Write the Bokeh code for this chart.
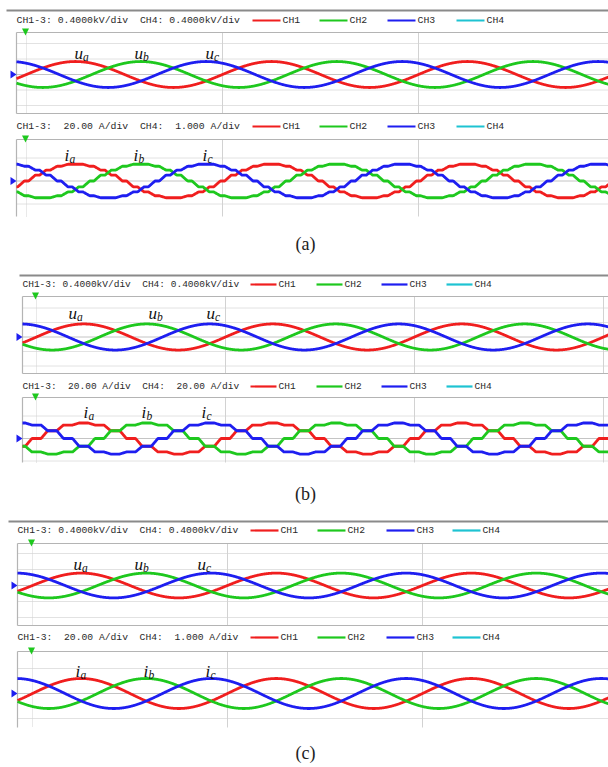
import numpy as np
from bokeh.plotting import figure
from bokeh.models import Range1d
from bokeh.core.properties import value
from bokeh.embed import file_html
from bokeh.resources import INLINE

# ---------------- data ----------------
cases = ["(a)", "(b)", "(c)"]
channels = ["CH1", "CH2", "CH3", "CH4"]
channel_colors = ["#f01e1e", "#1ec81e", "#1e1ef0", "#1ec3d2"]
phase_names = ["a", "b", "c"]
phase_shift_deg = [0, -120, 120]          # phase a, b, c
freq_hz = 50.0
kv_per_div = 0.4
a_per_div = 20.0
volt_hdr_ch13 = ["0.4000kV/div", "0.4000kV/div", "0.4000kV/div"]
volt_hdr_ch4 = ["0.4000kV/div", "0.4000kV/div", "0.4000kV/div"]
cur_hdr_ch13 = ["20.00 A/div", "20.00 A/div", "20.00 A/div"]
cur_hdr_ch4 = ["1.000 A/div", "20.00 A/div", "1.000 A/div"]
u_peak_kv = [0.335, 0.36, 0.31]           # phase voltage peak per case
i_peak_a = [14.8, 13.8, 12.0]             # phase current peak per case
i_steps_per_cycle = [18, 12, 0]           # staircase steps per cycle (0 = smooth)

# ---------------- layout (pixels) ----------------
W, H = 608, 767
blocks = [
    dict(x0=16, line_y=10, line_x0=6, hv=20, hi=126, fs="9.8px", leg=[252, 319, 387, 456], ll=28,
         trig=26, pxms=9.8, ramp=0.6,
         V=dict(top=32, bot=113, cy=74, div=15.5, nh=2, bb=True),
         I=dict(top=139, bot=216, cy=180.5, div=23, nh=1, bb=False),
         ux=[74, 134, 205], uy=53, ix=[64, 133, 202], iy=155, cap=243),
    dict(x0=22, line_y=275, line_x0=19, hv=284, hi=386, fs="9.5px", leg=[250, 316, 381, 446], ll=26,
         trig=36, pxms=9.45, ramp=0.42,
         V=dict(top=296, bot=373, cy=336.5, div=14.5, nh=2, bb=True),
         I=dict(top=397, bot=462, cy=438, div=22.5, nh=1, bb=False),
         ux=[68, 148, 206], uy=313, ix=[83, 141, 201], iy=412, cap=493),
    dict(x0=17, line_y=521, line_x0=8, hv=530, hi=637, fs="9.7px", leg=[250, 317, 386, 452], ll=28,
         trig=32, pxms=9.75, ramp=0.5,
         V=dict(top=543, bot=625, cy=585, div=16, nh=2, bb=True),
         I=dict(top=651, bot=727, cy=693, div=25, nh=1, bb=False),
         ux=[73, 134, 197], uy=564, ix=[75, 143, 205], iy=671, cap=752),
]

p = figure(width=W, height=H, x_range=Range1d(0, W), y_range=Range1d(H, 0),
           x_axis_type=None, y_axis_type=None, toolbar_location=None,
           output_backend="svg", title=None, min_border=0)
p.outline_line_color = None
p.background_fill_color = "white"
p.border_fill_color = "white"

MONO = value("Liberation Mono")
SERIF = value("Liberation Serif")
GRID = "#c4c4c4"
BORDER = "#b4b4b4"
NB = "\u00a0"


def stair(theta, n, w):
    phi = theta * n / (2 * np.pi)
    k = np.floor(phi)
    u = phi - k
    lo = np.sin(2 * np.pi * k / n)
    hi = np.sin(2 * np.pi * (k + 1) / n)
    t = np.clip((u - 0.5 + w / 2) / w, 0, 1)
    return lo + (hi - lo) * t


def panel(b, pan, unit_per_div, peak, steps, labels_x, label_y, letter):
    x0 = b["x0"]
    top, bot, cy, div = pan["top"], pan["bot"], pan["cy"], pan["div"]
    # horizontal grid
    for k in range(-pan["nh"], pan["nh"] + 1):
        yy = cy + k * div
        if k == 0:
            p.line([x0, W], [yy, yy], line_color=GRID, line_width=1)
        else:
            p.line([x0, W], [yy, yy], line_color=GRID, line_width=1, line_dash="1 1")
    # vertical grid at every cycle
    period_px = b["pxms"] * 1000.0 / freq_hz
    xv = b["trig"]
    first = True
    while xv < W:
        p.line([xv, xv], [top, bot], line_color="#d2d2d2", line_width=1,
               line_dash="1 1" if first else "solid")
        first = False
        xv += period_px
    # borders
    p.line([x0, W], [top, top], line_color=BORDER, line_width=1.2)
    if pan["bb"]:
        p.line([x0, W], [bot, bot], line_color=BORDER, line_width=1.2)
    p.line([x0, x0], [top, bot], line_color=BORDER, line_width=1.2)
    # waveforms
    t = np.linspace((x0 - b["trig"]) / b["pxms"], (W - b["trig"]) / b["pxms"], 1600)
    xs = b["trig"] + t * b["pxms"]
    for ph, col in zip(phase_shift_deg, channel_colors[:3]):
        theta = 2 * np.pi * freq_hz * t / 1000.0 + np.deg2rad(ph)
        if steps:
            shape = stair(np.mod(theta, 2 * np.pi), steps, b["ramp"])
        else:
            shape = np.sin(theta)
        ys = cy - peak * shape / unit_per_div * div
        p.line(xs, ys, line_color=col, line_width=2.8)
    # trigger marker (green) and level marker (blue)
    tx = b["trig"] - 1
    p.patches([[tx - 3.5, tx + 3.5, tx]], [[top - 4, top - 4, top + 3]],
              fill_color="#1ec81e", line_color=None)
    p.patches([[x0 - 6, x0, x0 - 6]], [[cy - 4, cy, cy + 4]],
              fill_color="#1e1ef0", line_color=None)
    # italic labels with subscripts
    sub_dx = 8.5 if letter == "u" else 5
    p.text(x=labels_x, y=[label_y] * 3, text=[letter] * 3, text_font=SERIF,
           text_font_style="italic", text_font_size="17px", text_color="#111",
           text_baseline="alphabetic")
    p.text(x=[x + sub_dx for x in labels_x], y=[label_y + 3] * 3, text=phase_names,
           text_font=SERIF, text_font_style="italic", text_font_size="11.5px",
           text_color="#111", text_baseline="alphabetic")


for i, b in enumerate(blocks):
    # dark top line of the screenshot
    p.line([b["line_x0"], W], [b["line_y"], b["line_y"]], line_color="#8a8a8a", line_width=2)
    hdr_v = f"CH1-3:{NB}{volt_hdr_ch13[i]}{NB}{NB}CH4:{NB}{volt_hdr_ch4[i]}"
    hdr_i = f"CH1-3:{NB}{NB}{cur_hdr_ch13[i]}{NB}{NB}CH4:{NB}{NB}{cur_hdr_ch4[i]}".replace(" ", NB)
    for hy, txt in [(b["hv"], hdr_v), (b["hi"], hdr_i)]:
        p.text(x=[b["x0"]], y=[hy], text=[txt], text_font=MONO, text_font_size=b["fs"],
               text_color="#2a2a2a", text_baseline="middle")
        for lx, ch, col in zip(b["leg"], channels, channel_colors):
            p.line([lx, lx + b["ll"]], [hy, hy], line_color=col, line_width=2.2)
            p.text(x=[lx + b["ll"] + 2], y=[hy], text=[ch], text_font=MONO,
                   text_font_size=b["fs"], text_color="#2a2a2a", text_baseline="middle")
    panel(b, b["V"], kv_per_div, u_peak_kv[i], 0, b["ux"], b["uy"], "u")
    panel(b, b["I"], a_per_div, i_peak_a[i], i_steps_per_cycle[i], b["ix"], b["iy"], "i")
    p.text(x=[W / 2 + 1], y=[b["cap"]], text=[cases[i]], text_font=SERIF,
           text_font_size="18px", text_color="#222", text_align="center",
           text_baseline="middle")

open("out.html", "w").write(file_html(p, INLINE))
